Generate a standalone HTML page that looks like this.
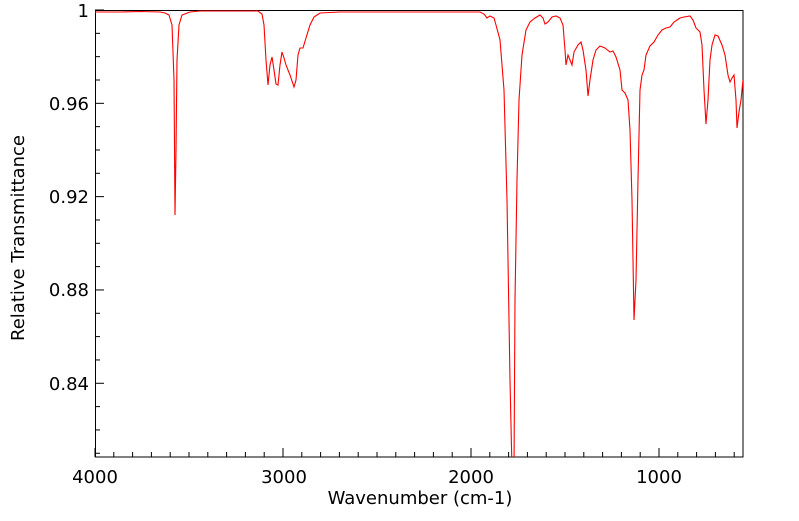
<!DOCTYPE html>
<html><head><meta charset="utf-8"><style>
body{margin:0;background:#fff;width:799px;height:516px;overflow:hidden}
text{font-family:"DejaVu Sans","Liberation Sans",sans-serif;font-size:18px;fill:#000}
</style></head><body>
<svg width="799" height="516" viewBox="0 0 799 516" xmlns="http://www.w3.org/2000/svg">
<defs><clipPath id="c"><rect x="95" y="10" width="648" height="447"/></clipPath></defs>
<rect x="95.5" y="10.5" width="647.5" height="446.5" fill="none" stroke="#000" stroke-width="1"/>
<g stroke="#000" stroke-width="1" id="ticks"></g>
<g clip-path="url(#c)">
<polyline fill="none" stroke="#ff0000" stroke-width="1.1" points="95,12 120,12 140,11.5 160,12 165,13 169,15 172,25 174,80 175,215 176,150 177,60 179,25 182,15 190,12 200,11 230,11 258,11 262,14 264,25 266,60 268,85 270,65 272,57 274,70 276,84 278,85 280,65 282,52 284,58 286,65 290,75 294,87 296,80 298,55 300,48 303,48 306,38 310,25 314,17 320,13 340,12 400,12 480,12 484,14 487,18 490,16 494,18 496,25 500,40 504,90 507,200 510,380 512,470 514,470 515,300 517,180 519,100 522,55 526,30 530,22 535,18 540,15 543,18 545,24 548,22 552,17 556,16 560,18 563,25 565,50 566,65 568,55 570,60 572,65 574,52 578,45 581,42 583,50 586,70 588,96 590,80 593,60 596,50 600,46 605,48 610,52 613,51 616,57 620,70 622,90 625,93 628,100 630,130 632,200 634,320 636,280 638,180 640,90 642,75 644,70 646,55 650,46 654,42 658,35 662,30 666,28 670,27 674,22 680,18 684,17 690,16 693,20 696,28 700,32 702,45 704,90 706,124 708,100 710,60 712,45 715,35 718,36 722,45 725,55 728,75 730,82 732,78 734,75 736,100 737,128 739,112 741,100 743,80"/>
</g>
<g text-anchor="end">
<text x="89" y="17">1</text>
<text x="89" y="110">0.96</text>
<text x="89" y="203">0.92</text>
<text x="89" y="296">0.88</text>
<text x="89" y="390">0.84</text>
</g>
<g text-anchor="middle">
<text x="95" y="483">4000</text>
<text x="284" y="483">3000</text>
<text x="471" y="483">2000</text>
<text x="659" y="483">1000</text>
<text x="420" y="504">Wavenumber (cm-1)</text>
<text transform="translate(24,238) rotate(-90)">Relative Transmittance</text>
</g>
</svg>
<script>
var g=document.getElementById('ticks'),s='';
for(var i=0;i<=34;i++){var x=95+i*18.8;if(x>743)break;var L=(i%10==0)?9:5;s+='<line x1="'+x+'" y1="457" x2="'+x+'" y2="'+(457-L)+'"/>';}
for(var j=0;j<=19;j++){var y=10+j*23.33;if(y>457)break;var L=(j%4==0)?9:5;s+='<line x1="95" y1="'+y+'" x2="'+(95+L)+'" y2="'+y+'"/>';}
g.innerHTML=s;
</script>
</body></html>
